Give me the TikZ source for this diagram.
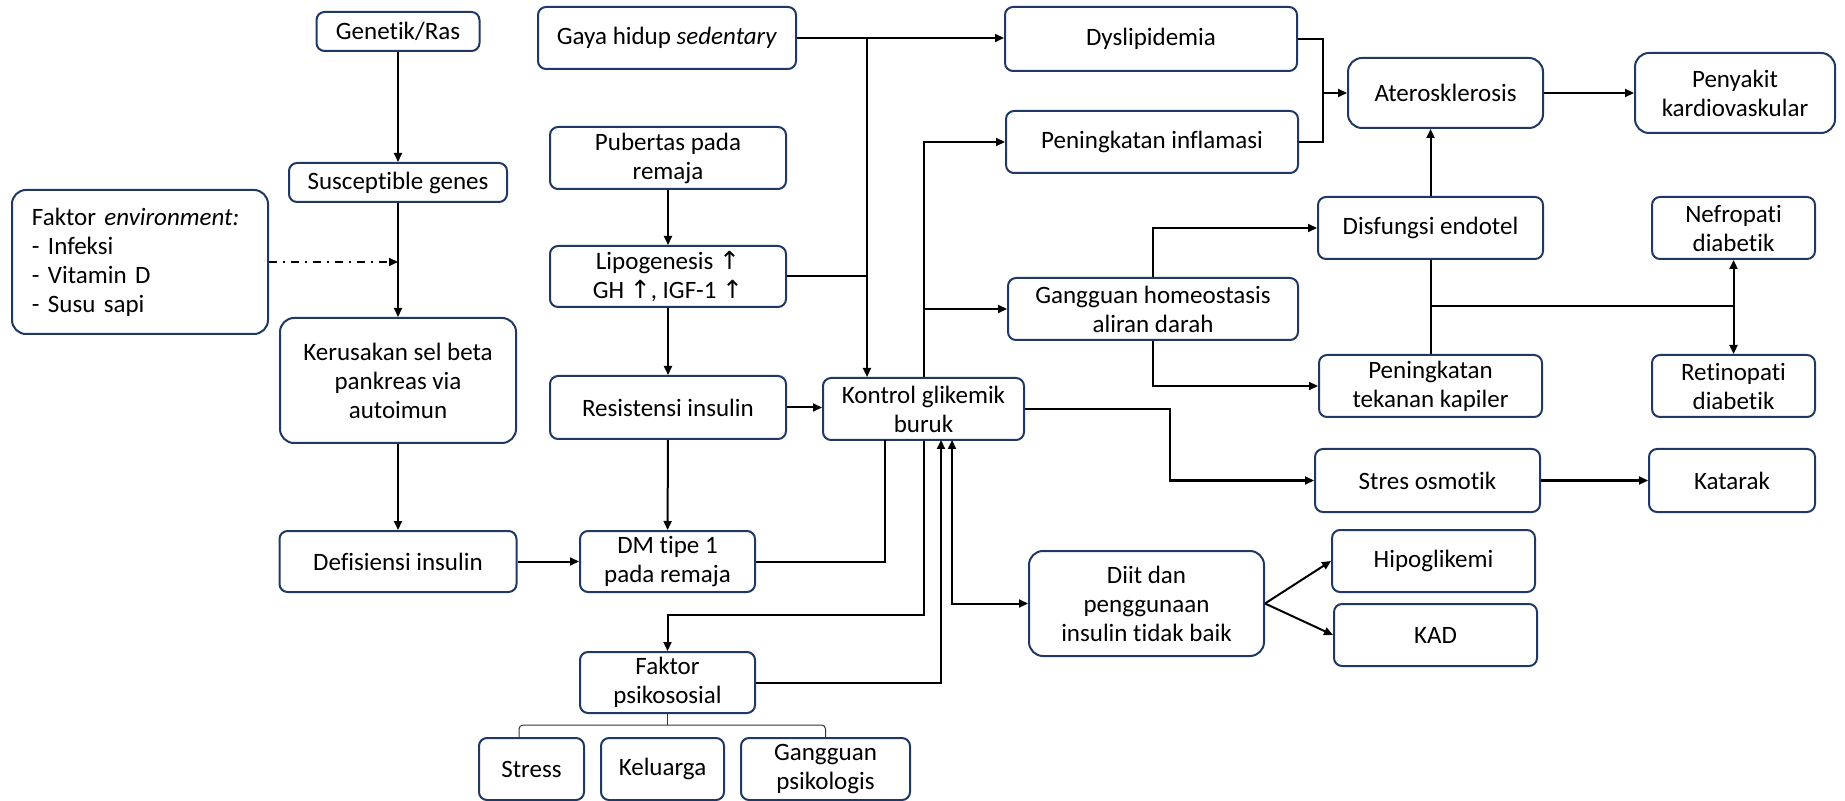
\documentclass[tikz,border=0pt]{standalone}
\usepackage{fontspec}
\setmainfont{Carlito}[Ligatures=NoCommon]
\newfontfamily\pfeilfont{DejaVu Sans}
\usetikzlibrary{arrows.meta}
\definecolor{rand}{HTML}{1F3864}
\newcommand{\hoch}{{\pfeilfont ↑}}

\begin{document}
\begin{tikzpicture}[x=0.5pt,y=-0.5pt,
  kasten/.style={draw=rand,line width=1pt,rounded corners=4pt,align=center,
    inner sep=0pt,font=\fontsize{12.5}{14.5}\selectfont},
  gross/.style={rounded corners=7pt},
  sz/.style 2 args={minimum width=#1*0.5pt,minimum height=#2*0.5pt},
  linie/.style={line width=1pt},
  pfeil/.style={line width=1pt,-{Triangle[length=4.5pt,width=4pt]}},
  doppelpfeil/.style={line width=1pt,{Triangle[length=4.5pt,width=4pt]}-{Triangle[length=4.5pt,width=4pt]}},
  strichpunkt/.style={dash pattern=on 4pt off 3pt on 1pt off 3pt},
  klammer/.style={line width=0.5pt,black!80,rounded corners=2pt}]
  \useasboundingbox (0,0) rectangle (1845,801);
  % Kästen links
  \node[kasten,sz={163}{39}] (gen) at (398,31.5) {Genetik/Ras};
  \node[kasten,sz={218}{39}] (sus) at (398,182.5) {Susceptible genes};
  \node[kasten,gross,sz={256}{144},text width=108pt,align=left,inner xsep=10pt] (env) at (140,262)
    {Faktor \textit{environment:}\\- Infeksi\\- Vitamin D\\- Susu sapi};
  \node[kasten,gross,sz={236}{125}] (ker) at (398,380.5) {Kerusakan sel beta\\pankreas via\\autoimun};
  \node[kasten,sz={237}{61}] (def) at (398,561.5) {Defisiensi insulin};
  % Kästen Mitte
  \node[kasten,sz={258}{62}] (gaya) at (667,38) {Gaya hidup \textit{sedentary}};
  \node[kasten,sz={236}{62}] (pub) at (668,158) {Pubertas pada\\remaja};
  \node[kasten,sz={236}{61}] (lip) at (668,276.5) {Lipogenesis \hoch\\GH \hoch, IGF-1 \hoch};
  \node[kasten,sz={236}{63}] (res) at (668,407.5) {Resistensi insulin};
  \node[kasten,sz={175}{61}] (dm) at (667.5,561.5) {DM tipe 1\\pada remaja};
  \node[kasten,sz={175}{61}] (psi) at (667.5,682.5) {Faktor\\psikososial};
  \node[kasten,sz={105}{62}] (stress) at (531.5,769) {Stress};
  \node[kasten,sz={123}{62}] (kel) at (662.5,769) {Keluarga};
  \node[kasten,sz={169}{62}] (gp) at (825.5,769) {Gangguan\\psikologis};
  \node[kasten,sz={201}{62}] (kon) at (923.5,409) {Kontrol glikemik\\buruk};
  \node[kasten,sz={292}{64}] (dys) at (1151,39) {Dyslipidemia};
  \node[kasten,sz={292}{62}] (inf) at (1152,142) {Peningkatan inflamasi};
  \node[kasten,sz={290}{62}] (gan) at (1153,309) {Gangguan homeostasis\\aliran darah};
  \node[kasten,gross,sz={235}{105}] (diit) at (1146.5,603.5) {Diit dan\\penggunaan\\insulin tidak baik};
  % Kästen rechts
  \node[kasten,gross,sz={195}{70}] (ate) at (1445.5,93) {Aterosklerosis};
  \node[kasten,gross,sz={200}{80}] (pen) at (1735,93) {Penyakit\\kardiovaskular};
  \node[kasten,sz={225}{62}] (dis) at (1430.5,228) {Disfungsi endotel};
  \node[kasten,sz={163}{62}] (nef) at (1733.5,228) {Nefropati\\diabetik};
  \node[kasten,sz={223}{62}] (kap) at (1430.5,386) {Peningkatan\\tekanan kapiler};
  \node[kasten,sz={163}{62}] (ret) at (1733.5,386) {Retinopati\\diabetik};
  \node[kasten,sz={225}{63}] (osm) at (1427.5,480.5) {Stres osmotik};
  \node[kasten,sz={166}{63}] (kat) at (1732,480.5) {Katarak};
  \node[kasten,sz={203}{62}] (hip) at (1433.5,561) {Hipoglikemi};
  \node[kasten,sz={203}{62}] (kad) at (1435.5,635) {KAD};
  % Hilfspunkte
  \coordinate (jg) at (867,38);
  \coordinate (ko) at (1170,480.5);
  \coordinate (k1) at (885,440);
  \coordinate (k2) at (923.5,615);
  \coordinate (k3) at (941,440);
  \coordinate (k4) at (952,440);
  \coordinate (ja) at (1323,93);
  \coordinate (jd) at (1430.5,306);
  % Verbindungen links
  \draw[pfeil] (gen) -- (sus);
  \draw[pfeil] (sus) -- (ker);
  \draw[pfeil,strichpunkt] (env.east) -- (env.east -| sus.south);
  \draw[pfeil] (ker) -- (def);
  \draw[pfeil] (def) -- (dm);
  % Verbindungen Mitte
  \draw[pfeil] (gaya.east) -- (dys.west |- gaya.east);
  \draw[pfeil] (jg) -- (jg |- kon.north);
  \draw[linie] (lip.east) -- (lip.east -| jg);
  \draw[pfeil] (pub) -- (lip);
  \draw[pfeil] (lip) -- (res);
  \draw[pfeil] (res) -- (dm);
  \draw[pfeil] (res.east) -- (kon.west |- res.east);
  \draw[pfeil] (kon.north) |- (inf.west);
  \draw[pfeil] (kon.north |- gan.west) -- (gan.west);
  \draw[pfeil] (gan.north) |- (dis.west);
  \draw[pfeil] (gan.south) |- (kap.west);
  \draw[pfeil] (kon.east) -| (ko) -- (osm.west);
  \draw[linie] (dm.east) -| (k1);
  \draw[pfeil] (kon.south) -- (k2) -| (psi.north);
  \draw[pfeil] (psi.east) -| (k3);
  \draw[doppelpfeil] (k4) |- (diit.west);
  \draw[pfeil] (diit.east) -- (hip.west);
  \draw[pfeil] (diit.east) -- (kad.west);
  % Verbindungen rechts
  \draw[linie] (dys.east) -| (ja);
  \draw[linie] (inf.east) -| (ja);
  \draw[pfeil] (ja) -- (ate.west);
  \draw[pfeil] (ate) -- (pen);
  \draw[pfeil] (dis.north) -- (dis.north |- ate.south);
  \draw[linie] (dis.south) -- (kap.north);
  \draw[line width=1.4pt] (jd) -- (jd -| nef.south);
  \draw[pfeil] (jd -| nef.south) -- (nef.south);
  \draw[pfeil] (jd -| nef.south) -- (ret.north);
  \draw[pfeil] (osm) -- (kat);
  % Klammer
  \draw[klammer] (psi.south) -- (psi.south |- 0,725);
  \draw[klammer] ([xshift=-6.25pt]stress.north) |- (psi.south |- 0,725) -| (gp.north);
\end{tikzpicture}
\end{document}
